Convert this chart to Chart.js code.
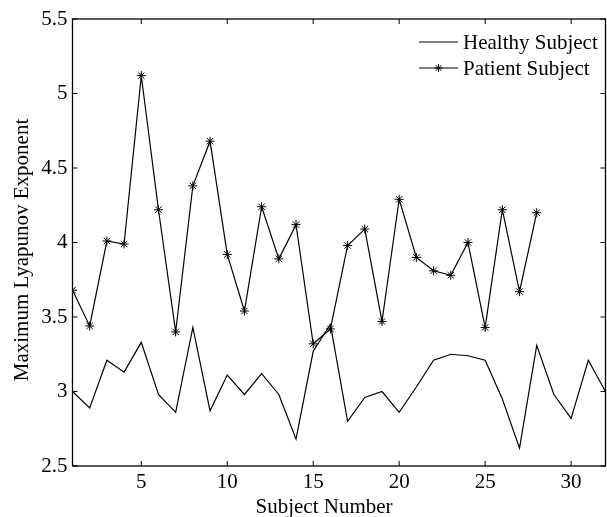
<!DOCTYPE html>
<html>
<head>
<meta charset="utf-8">
<script src="https://cdn.jsdelivr.net/npm/chart.js@4"></script>
<style>
  html, body { margin: 0; padding: 0; background: #fff; overflow: hidden; }
  #wrap { width: 611px; height: 517px; }
</style>
</head>
<body>
<div id="wrap"><canvas id="chart" width="611" height="517"></canvas></div>
<script>
const subjects = Array.from({ length: 32 }, (_, i) => i + 1);
const healthy = [3.00, 2.89, 3.21, 3.13, 3.33, 2.98, 2.86, 3.43, 2.87, 3.11,
                 2.98, 3.12, 2.98, 2.68, 3.27, 3.45, 2.80, 2.96, 3.00, 2.86,
                 3.03, 3.21, 3.25, 3.24, 3.21, 2.95, 2.62, 3.31, 2.98, 2.82,
                 3.21, 3.00];
const patient = [3.68, 3.44, 4.01, 3.99, 5.12, 4.22, 3.40, 4.38, 4.68, 3.92,
                 3.54, 4.24, 3.89, 4.12, 3.32, 3.42, 3.98, 4.09, 3.47, 4.29,
                 3.90, 3.81, 3.78, 4.00, 3.43, 4.22, 3.67, 4.20];
const xTicks = [5, 10, 15, 20, 25, 30];
const yTicks = [2.5, 3, 3.5, 4, 4.5, 5, 5.5];
const xTitle = 'Subject Number';
const yTitle = 'Maximum Lyapunov Exponent';

const serif = "'Liberation Serif', 'DejaVu Serif', serif";
const fontSize = 21;

// box round the plot, ticks pointing inward, axis titles, legend in the top right corner
const boxPlugin = {
    id: 'box',
    afterDraw(chart) {
        const { ctx, chartArea: a, scales } = chart;
        ctx.save();
        ctx.strokeStyle = '#000';
        ctx.lineWidth = 1.3;
        ctx.strokeRect(a.left, a.top, a.right - a.left, a.bottom - a.top);
        ctx.lineWidth = 1;
        ctx.beginPath();
        scales.x.ticks.forEach(t => {
            const px = scales.x.getPixelForValue(t.value);
            ctx.moveTo(px, a.bottom); ctx.lineTo(px, a.bottom - 5);
            ctx.moveTo(px, a.top); ctx.lineTo(px, a.top + 5);
        });
        scales.y.ticks.forEach(t => {
            const py = scales.y.getPixelForValue(t.value);
            ctx.moveTo(a.left, py); ctx.lineTo(a.left + 5, py);
            ctx.moveTo(a.right, py); ctx.lineTo(a.right - 5, py);
        });
        ctx.stroke();

        ctx.font = fontSize + 'px ' + serif;
        ctx.fillStyle = '#000';

        // axis titles
        ctx.textAlign = 'center';
        ctx.textBaseline = 'alphabetic';
        ctx.fillText(xTitle, 324, 513);
        ctx.save();
        ctx.translate(28, 250);
        ctx.rotate(-Math.PI / 2);
        ctx.fillText(yTitle, 0, 0);
        ctx.restore();

        // legend
        ctx.textAlign = 'left';
        ctx.textBaseline = 'middle';
        chart.data.datasets.forEach((ds, i) => {
            const y = 42 + i * 26;
            ctx.beginPath();
            ctx.lineWidth = 1;
            ctx.moveTo(419, y); ctx.lineTo(458, y);
            ctx.stroke();
            if (ds.pointRadius > 0) {
                Chart.helpers.drawPoint(ctx, { pointStyle: 'star', radius: 4, borderWidth: 1 }, 438.5, y);
            }
            ctx.fillText(ds.label, 463, y + 1);
        });
        ctx.restore();
    }
};

new Chart(document.getElementById('chart'), {
    type: 'line',
    data: {
        labels: subjects,
        datasets: [{
            label: 'Healthy Subject',
            data: healthy,
            borderColor: '#000',
            borderWidth: 1.2,
            pointRadius: 0,
            tension: 0
        }, {
            label: 'Patient Subject',
            data: patient,
            borderColor: '#000',
            backgroundColor: '#000',
            borderWidth: 1.2,
            pointStyle: 'star',
            pointRadius: 4.5,
            pointBorderWidth: 1,
            tension: 0
        }]
    },
    options: {
        responsive: false,
        animation: false,
        layout: { padding: { top: 19, right: 0, left: 0, bottom: 0 } },
        plugins: { legend: { display: false }, tooltip: { enabled: false } },
        scales: {
            x: {
                type: 'linear',
                min: 1,
                max: 32,
                grid: { display: false, drawTicks: false },
                border: { display: false },
                afterBuildTicks: s => { s.ticks = xTicks.map(v => ({ value: v })); },
                afterFit: s => { s.height = 51; },
                ticks: { color: '#000', font: { family: serif, size: fontSize }, padding: 4,
                         maxRotation: 0, autoSkip: false, callback: v => String(v) }
            },
            y: {
                min: 2.5,
                max: 5.5,
                grid: { display: false, drawTicks: false },
                border: { display: false },
                afterBuildTicks: s => { s.ticks = yTicks.map(v => ({ value: v })); },
                afterFit: s => { s.width = 72.5; },
                ticks: { color: '#000', font: { family: serif, size: fontSize }, padding: 5,
                         autoSkip: false, callback: v => String(v) }
            }
        }
    },
    plugins: [boxPlugin]
});
</script>
</body>
</html>
